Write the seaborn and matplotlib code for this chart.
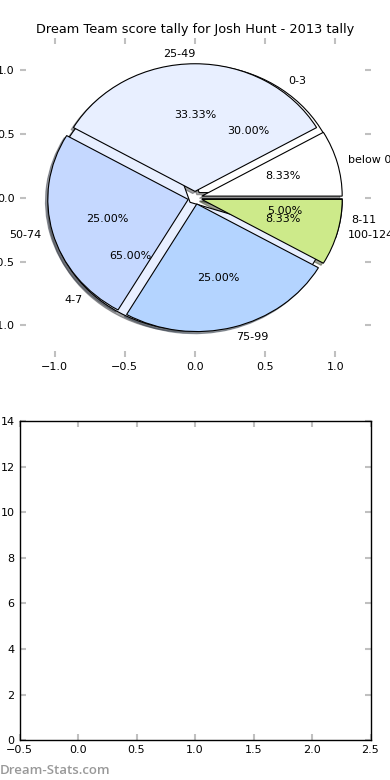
import matplotlib
matplotlib.use('Agg')
import matplotlib.pyplot as plt
import seaborn as sns
import numpy as np

# data
low_labels = ['0-3', '4-7', '8-11']
low_values = [30.0, 65.0, 5.0]
high_labels = ['below 0', '25-49', '50-74', '75-99', '100-124']
high_values = [8.33, 33.33, 25.0, 25.0, 8.33]
wedge_colors = ['#ffffff', '#e8efff', '#c5d8ff', '#b4d4ff', '#cdea8a']
title = 'Dream Team score tally for Josh Hunt - 2013 tally'

sns.set_style('white', rc={
    'xtick.direction': 'in', 'ytick.direction': 'in',
    'xtick.top': True, 'ytick.right': True,
    'xtick.bottom': True, 'ytick.left': True,
    'axes.edgecolor': 'black',
})
plt.rcParams.update({
    'font.family': ['DejaVu Sans'],
    'font.size': 8,
    'text.color': 'black',
    'axes.linewidth': 1.0,
    'xtick.major.size': 4, 'ytick.major.size': 4,
    'xtick.major.width': 1.5, 'ytick.major.width': 1.5,
    'xtick.color': '#c0c0c0', 'ytick.color': '#c0c0c0',
    'xtick.labelcolor': 'black', 'ytick.labelcolor': 'black',
    'xtick.labelsize': 8, 'ytick.labelsize': 8,
})

fig, (ax1, ax2) = plt.subplots(2, 1, figsize=(3.9, 7.8), dpi=100)
fig.subplots_adjust(left=0.05, right=0.95, top=0.951, bottom=0.051, hspace=0.2)

# two pies stacked on the same axes
wp = {'edgecolor': 'black', 'linewidth': 0.8}
shd = {'ox': -0.012, 'oy': -0.012}
tp = {'fontsize': 8, 'color': 'black'}
ax1.pie(low_values, labels=low_labels, colors=wedge_colors[:len(low_values)],
        explode=[0.05] * len(low_values), autopct='%1.2f%%', shadow=shd,
        labeldistance=1.08, wedgeprops=wp, textprops=tp)
_, high_texts, _ = ax1.pie(high_values, labels=high_labels, colors=wedge_colors,
                           explode=[0.05] * len(high_values), autopct='%1.2f%%',
                           shadow=shd, labeldistance=1.08, wedgeprops=wp,
                           textprops=tp)
high_texts[1].set_ha('right')
ax1.set_aspect('auto')
ax1.set_xlim(-1.25, 1.25)
ax1.set_ylim(-1.25, 1.25)
ax1.set_xticks([-1.0, -0.5, 0.0, 0.5, 1.0])
ax1.set_yticks([-1.0, -0.5, 0.0, 0.5, 1.0])
ax1.set_frame_on(False)
ax1.set_title(title, fontsize=9.25, pad=4)

# empty second panel
ax2.set_xlim(-0.5, 2.5)
ax2.set_ylim(0, 14)
ax2.set_xticks(np.arange(-0.5, 2.51, 0.5))
ax2.set_yticks(np.arange(0, 15, 2))
for s in ax2.spines.values():
    s.set_visible(True)

fig.text(0.0, 0.0128, 'Dream-Stats.com', color='#999999', fontsize=9.5,
         family=['Open Sans', 'DejaVu Sans'], weight='semibold',
         ha='left', va='center')

fig.savefig('out.png', dpi=100, facecolor='white')
